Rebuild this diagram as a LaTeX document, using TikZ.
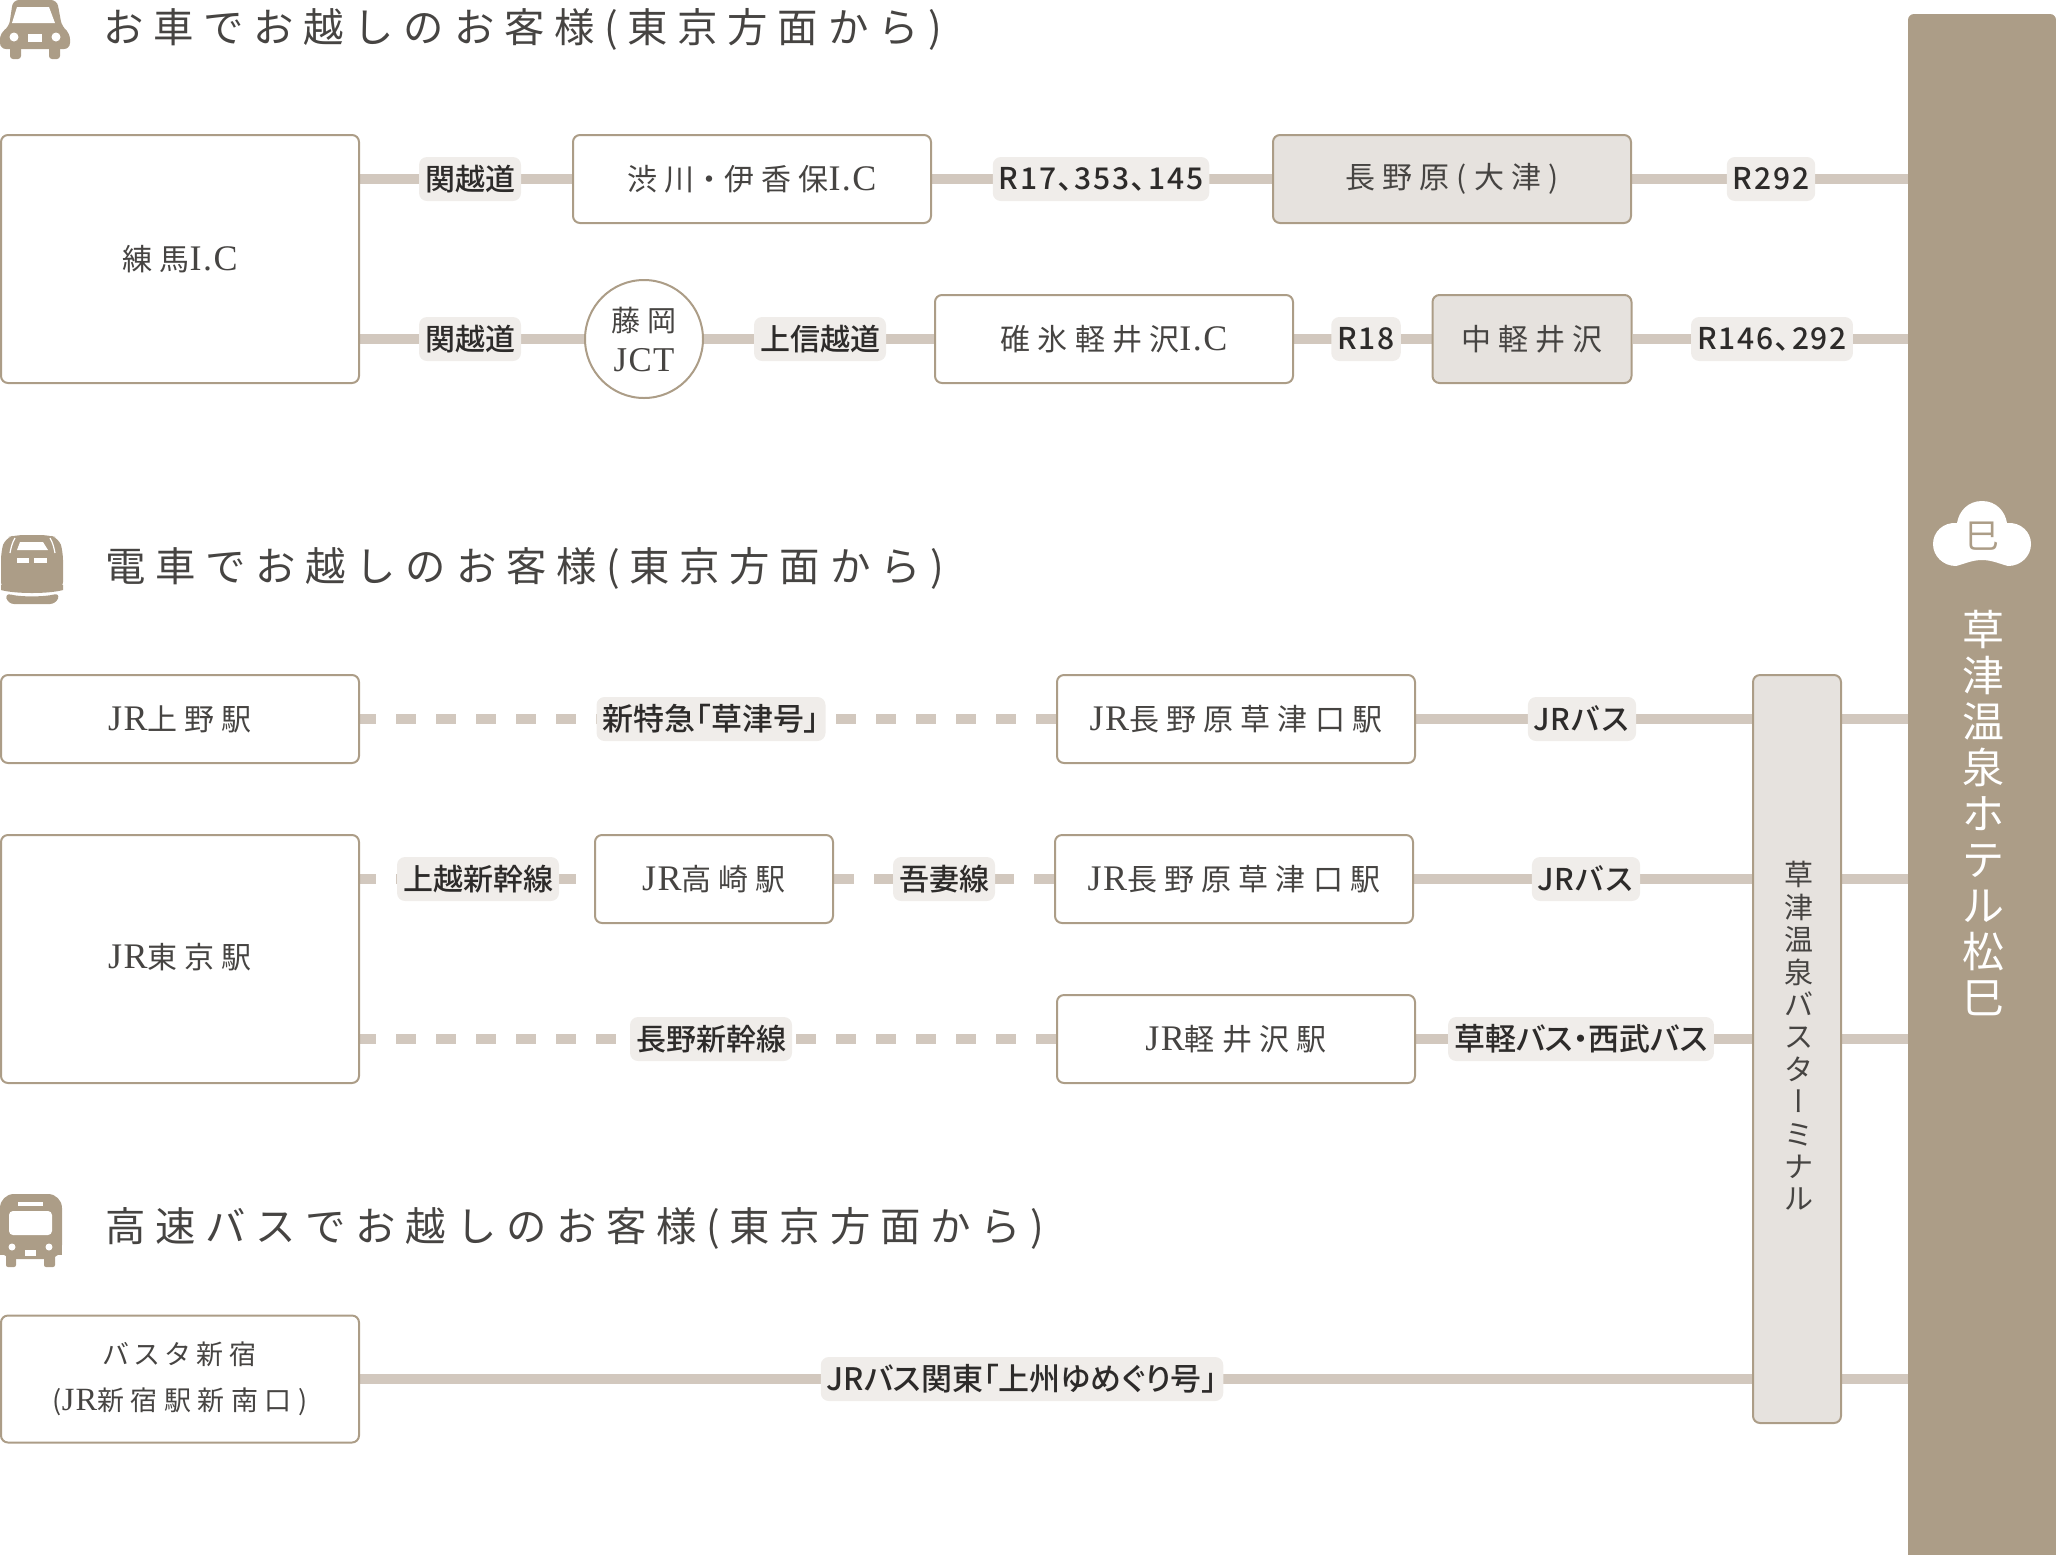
\documentclass[tikz,border=0pt]{standalone}
\usepackage{fontspec}
\usepackage{xcolor}
\usetikzlibrary{backgrounds}
\setmainfont{Liberation Serif}
\newfontfamily\cjkplain[LetterSpace=24]{Noto Sans CJK JP}
\newfontfamily\cjkbox[LetterSpace=24,RawFeature=+palt]{Noto Sans CJK JP}
\newfontfamily\cjktight{Noto Sans CJK JP}
\newfontfamily\cjklabel{Noto Sans CJK JP Medium}
\newfontfamily\cjknum[LetterSpace=6]{Noto Sans CJK JP Medium}
\newfontfamily\cjkpalt[RawFeature=+palt]{Noto Sans CJK JP Medium}
\newfontfamily\serifroman[LetterSpace=4,Scale=1.2]{Liberation Serif}
\newcommand{\ltn}[1]{{\serifroman #1}}
\definecolor{hotelbrown}{RGB}{172,157,135}
\definecolor{routeclr}{RGB}{210,200,190}
\definecolor{stopfill}{RGB}{230,226,222}
\definecolor{haloclr}{RGB}{240,237,234}
\definecolor{inkgrey}{RGB}{70,68,66}
\definecolor{darkink}{RGB}{45,43,42}
\tikzset{
    x=0.5pt, y=-0.5pt,
    stationbox/.style={draw=hotelbrown, line width=1pt, fill=white, rounded corners=3.5pt, minimum width=179pt, minimum height=44pt, inner sep=0pt, text=inkgrey, font=\fontsize{15}{22}\cjkbox},
    stopbox/.style={stationbox, fill=stopfill},
    routelabel/.style={fill=haloclr, rounded corners=4pt, inner xsep=3pt, inner ysep=0pt, minimum height=22pt, text=darkink, font=\fontsize{15}{18}\cjklabel},
    numlabel/.style={routelabel, font=\fontsize{15}{18}\cjknum},
    paltlabel/.style={routelabel, font=\fontsize{15.5}{18}\cjkpalt},
    routeline/.style={draw=routeclr, line width=5pt},
    railline/.style={routeline, dash pattern=on 10pt off 10pt},
    boxrail/.style={railline, dash phase=2pt},
    headtext/.style={anchor=west, inner sep=0pt, text=inkgrey, font=\fontsize{20.2}{24}\cjkplain},
    iconfill/.style={fill=hotelbrown, draw=none},
    iconhole/.style={fill=white, draw=none}
}
\begin{document}
\begin{tikzpicture}
    \useasboundingbox (0,0) rectangle (2056,1554);
    % --- Headings ---
    \node[headtext] (carhead) at (103,29) {お車でお越しのお客様(東京方面から)};
    \node[headtext] (trainhead) at (105,568) {電車でお越しのお客様(東京方面から)};
    \node[headtext] (bushead) at (105,1228) {高速バスでお越しのお客様(東京方面から)};
    % --- Car icon ---
    \fill[iconfill, rounded corners=3pt] (9,27) -- (13,0) -- (57,0) -- (62,27) -- (70,33) -- (70,49) -- (0,49) -- (0,33) -- cycle;
    \fill[iconfill, rounded corners=1.5pt] (10,44) rectangle (21,59);
    \fill[iconfill, rounded corners=1.5pt] (49,44) rectangle (60,59);
    \fill[iconhole] (12,23) -- (17,7) -- (49,7) -- (55,23) -- cycle;
    \fill[iconhole] (14,37) circle (4.5);
    \fill[iconhole] (56,37) circle (4.5);
    \fill[iconhole] (28,34) rectangle (42,42);
    % --- Train icon ---
    \fill[iconfill, rounded corners=4pt] (1,590) -- (1,552) -- (5,538) -- (16,535) -- (48,535) -- (59,538) -- (63,552) -- (63,590) -- cycle;
    \fill[iconfill] (1,590) .. controls (15,594) and (49,594) .. (63,590) -- (63,585) -- (1,585) -- cycle;
    \fill[iconfill, rounded corners=3pt] (5,593) .. controls (20,597) and (44,597) .. (60,593) -- (56,604) -- (8,604) -- cycle;
    \fill[iconhole] (17,550) -- (20,542) -- (43,542) -- (48,550) -- cycle;
    \fill[iconhole] (17,558) rectangle (29,563);
    \fill[iconhole] (34,558) rectangle (47,563);
    \draw[white, line width=0.6pt] (15,538) .. controls (12,543) and (11,548) .. (10,553);
    \draw[white, line width=0.6pt] (50,538) .. controls (53,543) and (54,548) .. (55,553);
    % --- Bus icon ---
    \fill[iconfill, rounded corners=7pt] (0,1194) rectangle (62,1259);
    \fill[iconfill] (0,1225) rectangle (62,1255);
    \fill[iconfill, rounded corners=1pt] (6,1250) rectangle (16,1267);
    \fill[iconfill, rounded corners=1pt] (44,1250) rectangle (55,1267);
    \fill[iconhole, rounded corners=2pt] (9,1211) rectangle (52,1235);
    \fill[iconhole] (18,1202) rectangle (43,1206);
    \fill[iconhole] (12,1247) circle (3.5);
    \fill[iconhole] (49,1247) circle (3.5);
    \fill[iconhole] (25,1250) rectangle (36,1256);
    % --- Hotel bar ---
    \node[fill=hotelbrown, rounded corners=3pt, minimum width=74pt, minimum height=790pt, inner sep=0pt] (hotel) at (1982,804) {};
    \fill[white] (1982,501) .. controls (1996,501) and (2005,511) .. (2007,523) .. controls (2021,522) and (2031,532) .. (2031,544) .. controls (2031,556) and (2021,566) .. (2008,566) .. controls (2000,564) and (1992,560) .. (1982,560) .. controls (1972,560) and (1964,564) .. (1956,566) .. controls (1943,566) and (1933,556) .. (1933,544) .. controls (1933,532) and (1943,522) .. (1957,523) .. controls (1959,511) and (1968,501) .. (1982,501) -- cycle;
    \node[text=hotelbrown, inner sep=0pt, font=\fontsize{17}{18}\cjktight] (logochar) at (1982,536) {巳};
    \node[text=white, inner sep=0pt, align=center, font=\fontsize{21}{23}\cjktight] (hotelname) at (1983,813) {草\\津\\温\\泉\\ホ\\テ\\ル\\松\\巳};
    % --- By car ---
    \node[stationbox, minimum height=124pt] (nerima) at (180,259) {練馬\ltn{I.C}};
    \node[stationbox] (shibukawa) at (752,179) {渋川・伊香保\ltn{I.C}};
    \node[stopbox] (naganohara) at (1452,179) {長野原(大津)};
    \node[stationbox, circle, minimum width=59pt, minimum height=59pt] (fujioka) at (644,339) {};
    \node[text=inkgrey, align=center, inner sep=0pt, font=\fontsize{14.5}{20}\cjkbox] (fujiokatext) at (644,339) {藤岡\\\ltn{JCT}};
    \node[stationbox] (usui) at (1114,339) {碓氷軽井沢\ltn{I.C}};
    \node[stopbox, minimum width=99.5pt] (nakakaruizawa) at (1532,339) {中軽井沢};
    \node[routelabel] (kanetsua) at (470,179) {関越道};
    \node[routelabel] (kanetsub) at (470,339) {関越道};
    \node[routelabel] (joshinetsu) at (820,339) {上信越道};
    \node[numlabel] (routeA) at (1101,179) {R17､353､145};
    \node[numlabel] (routeB) at (1771,179) {R292};
    \node[numlabel] (routeC) at (1366,339) {R18};
    \node[numlabel] (routeD) at (1772,339) {R146､292};
    % --- By train ---
    \node[stationbox] (ueno) at (180,719) {\ltn{JR}上野駅};
    \node[stationbox, minimum height=124pt] (tokyo) at (180,959) {\raisebox{3pt}{\ltn{JR}東京駅}};
    \node[stationbox] (naganoa) at (1236,719) {\ltn{JR}長野原草津口駅};
    \node[stationbox, minimum width=119pt] (takasaki) at (714,879) {\ltn{JR}高崎駅};
    \node[stationbox] (naganob) at (1234,879) {\ltn{JR}長野原草津口駅};
    \node[stationbox] (karuizawa) at (1236,1039) {\ltn{JR}軽井沢駅};
    \node[paltlabel] (kusatsugo) at (711,719) {新特急「草津号」};
    \node[routelabel] (jrbusa) at (1582,719) {JRバス};
    \node[routelabel] (joetsu) at (478,879) {上越新幹線};
    \node[routelabel] (agatsuma) at (944,879) {吾妻線};
    \node[routelabel] (jrbusb) at (1586,879) {JRバス};
    \node[routelabel] (hokuriku) at (711,1039) {長野新幹線};
    \node[paltlabel] (seibu) at (1581,1039) {草軽バス・西武バス};
    % --- By highway bus ---
    \node[stationbox, minimum height=63.5pt, align=center, font=\fontsize{13.5}{23}\cjkbox] (shinjuku) at (180,1379) {バスタ新宿\\(\ltn{JR}新宿駅新南口)};
    \node[paltlabel] (yumeguri) at (1022,1379) {JRバス関東「上州ゆめぐり号」};
    % --- Terminal ---
    \node[stopbox, minimum width=44pt, minimum height=374pt] (terminal) at (1797,1049) {};
    \node[text=inkgrey, align=center, inner sep=0pt, font=\fontsize{14.5}{16.2}\cjktight] (terminaltext) at (1799,1036) {草\\津\\温\\泉\\バ\\ス\\タ\\{\addfontfeature{RawFeature=+vert}ー}\\ミ\\ナ\\ル};
    % --- Connectors ---
    \begin{pgfonlayer}{background}
        \draw[routeline] (nerima.east |- shibukawa) -- (shibukawa);
        \draw[routeline] (shibukawa) -- (naganohara);
        \draw[routeline] (naganohara) -- (hotel.west |- naganohara);
        \draw[routeline] (nerima.east |- fujioka) -- (fujioka);
        \draw[routeline] (fujioka) -- (usui);
        \draw[routeline] (usui) -- (nakakaruizawa);
        \draw[routeline] (nakakaruizawa) -- (hotel.west |- nakakaruizawa);
        \draw[boxrail] (ueno) -- (naganoa);
        \draw[routeline] (naganoa) -- (terminal.west |- naganoa);
        \draw[boxrail] (tokyo.east |- takasaki) -- (takasaki);
        \draw[railline] (takasaki) -- (naganob);
        \draw[routeline] (naganob) -- (terminal.west |- naganob);
        \draw[boxrail] (tokyo.east |- karuizawa) -- (karuizawa);
        \draw[routeline] (karuizawa) -- (terminal.west |- karuizawa);
        \draw[routeline] (shinjuku) -- (terminal.west |- shinjuku);
        \foreach \stn in {naganoa, naganob, karuizawa, shinjuku}
            \draw[routeline] (terminal.east |- \stn) -- (hotel.west |- \stn);
    \end{pgfonlayer}
\end{tikzpicture}
\end{document}
